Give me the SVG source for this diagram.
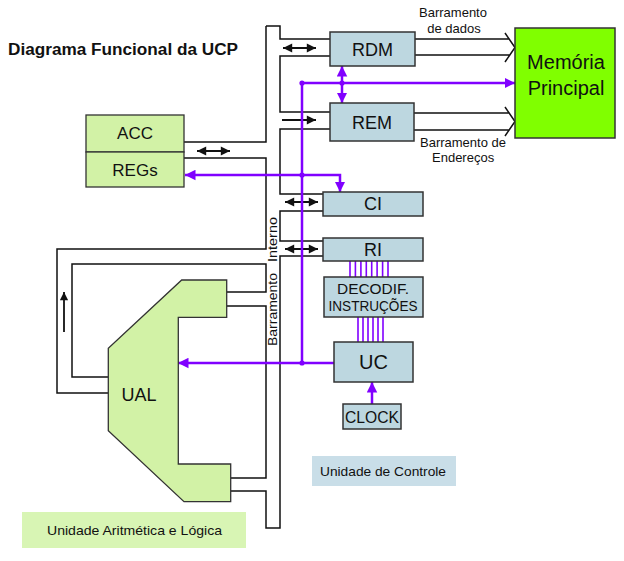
<svg xmlns="http://www.w3.org/2000/svg" width="624" height="561" viewBox="0 0 624 561">
<style>
text{font-family:"Liberation Sans",Arial,sans-serif;fill:#111}
.bus{fill:none;stroke:#111;stroke-width:1.5}
.blk{fill:none;stroke:#111;stroke-width:2}
.pur{fill:none;stroke:#8000ff;stroke-width:2.5}
.pth{fill:none;stroke:#8000ff;stroke-width:1.6}
.blue{fill:#bdd7e0;stroke:#333;stroke-width:1.5}
.green{fill:#d2f2a6;stroke:#333;stroke-width:1.3}
.lbl{font-size:13px}
</style>
<defs>
<marker id="ah" viewBox="0 0 10 10" refX="10" refY="5" markerWidth="5" markerHeight="4.6" orient="auto-start-reverse" markerUnits="strokeWidth"><path d="M0,0 L10,5 L0,10 z" fill="#111"/></marker>
<marker id="ap" viewBox="0 0 10 10" refX="10" refY="5" markerWidth="4.2" markerHeight="4.4" orient="auto-start-reverse" markerUnits="strokeWidth"><path d="M0,0 L10,5 L0,10 z" fill="#8000ff"/></marker>
</defs>
<rect width="624" height="561" fill="#fff"/>
<text x="8" y="55" font-size="16" font-weight="bold" textLength="230" lengthAdjust="spacingAndGlyphs">Diagrama Funcional da UCP</text>
<g id="connectors">
<path class="bus" d="M266,26 H280 V39 H330 M330,56 H280 V112 H330 M330,129 H280 V194 H323 M323,211 H280 V241 H323 M323,256 H280 V528 H266 V491 H231 M231,478 H266 V306 H227 M227,292 H266 V264 H72 V377 H108 M108,393 H57 V249 H266 V158 H184 M184,142 H266 V26"/>
<path class="bus" d="M415,39 H509 M505,33 L515,47.5 L505,62 M415,55 H509.5 M414,113 H509 M505,107 L515,121.5 L505,136 M414,130 H509.5"/>
<line class="blk" x1="283" y1="48" x2="316" y2="48" marker-start="url(#ah)" marker-end="url(#ah)"/>
<line class="blk" x1="282" y1="120" x2="316" y2="120" marker-end="url(#ah)"/>
<line class="blk" x1="197" y1="151" x2="230" y2="151" marker-start="url(#ah)" marker-end="url(#ah)"/>
<line class="blk" x1="285" y1="202" x2="318" y2="202" marker-start="url(#ah)" marker-end="url(#ah)"/>
<line class="blk" x1="285" y1="249" x2="318" y2="249" marker-start="url(#ah)" marker-end="url(#ah)"/>
<line x1="64" y1="332" x2="64" y2="292" stroke="#111" stroke-width="1.8" marker-end="url(#ah)"/>
<path class="pur" d="M302,363 V83 H515" marker-end="url(#ap)"/>
<line class="pur" x1="342" y1="66" x2="342" y2="103" marker-start="url(#ap)" marker-end="url(#ap)"/>
<path class="pur" d="M185,175 H340 V192" marker-start="url(#ap)" marker-end="url(#ap)"/>
<line class="pur" x1="334" y1="363" x2="178" y2="363" marker-end="url(#ap)"/>
<line class="pur" x1="372" y1="404" x2="372" y2="382" marker-end="url(#ap)"/>
<path class="pth" d="M350,261 V277 M355.4,261 V277 M360.9,261 V277 M366.3,261 V277 M371.7,261 V277 M377.1,261 V277 M382.6,261 V277 M388,261 V277"/>
<path class="pth" d="M358,317 V342 M363,317 V342 M368,317 V342 M373,317 V342 M378,317 V342 M383,317 V342"/>
<g fill="#8000ff"><circle cx="302" cy="83" r="2.6"/><circle cx="342" cy="83" r="2.6"/><circle cx="302" cy="175" r="2.6"/><circle cx="302" cy="363" r="2.6"/></g>
<text transform="translate(277,346) rotate(-90)" font-size="13" textLength="73" lengthAdjust="spacingAndGlyphs">Barramento</text>
<text transform="translate(277,262) rotate(-90)" font-size="13" textLength="45" lengthAdjust="spacingAndGlyphs">Interno</text>
</g>
<text class="lbl" x="453" y="17" text-anchor="middle">Barramento</text>
<text class="lbl" x="454" y="33" text-anchor="middle">de dados</text>
<text class="lbl" x="420" y="147">Barramento de</text>
<text class="lbl" x="432" y="162">Endereços</text>
<g id="rdm"><rect class="blue" x="330" y="32" width="85" height="34"/><text x="372.5" y="56" font-size="18" text-anchor="middle">RDM</text></g>
<g id="rem"><rect class="blue" x="330" y="103" width="84" height="38"/><text x="372" y="129" font-size="18" text-anchor="middle">REM</text></g>
<g id="ci"><rect class="blue" x="323" y="192" width="100" height="24"/><text x="373" y="210" font-size="18" text-anchor="middle">CI</text></g>
<g id="ri"><rect class="blue" x="323" y="238" width="100" height="23"/><text x="373" y="256" font-size="18" text-anchor="middle">RI</text></g>
<g id="decodif"><rect class="blue" x="324" y="277" width="99" height="40"/><text x="373" y="294" font-size="15" text-anchor="middle" textLength="72" lengthAdjust="spacingAndGlyphs">DECODIF.</text><text x="373" y="311" font-size="15" text-anchor="middle" textLength="89" lengthAdjust="spacingAndGlyphs">INSTRUÇÕES</text></g>
<g id="uc"><rect class="blue" x="334" y="342" width="79" height="40"/><text x="373.5" y="369" font-size="20" text-anchor="middle">UC</text></g>
<g id="clock"><rect class="blue" x="343" y="404" width="58" height="25"/><text x="372" y="423" font-size="17" text-anchor="middle" textLength="54" lengthAdjust="spacingAndGlyphs">CLOCK</text></g>
<g id="memoria"><rect x="515" y="28" width="100" height="110" fill="#80ff00" stroke="#333" stroke-width="1.5"/><text x="566" y="69" font-size="20" text-anchor="middle">Memória</text><text x="566" y="95" font-size="20" text-anchor="middle">Principal</text></g>
<g id="acc"><rect class="green" x="86" y="115" width="98" height="37"/><text x="135" y="139" font-size="17" text-anchor="middle">ACC</text></g>
<g id="regs"><rect class="green" x="86" y="152" width="98" height="35"/><text x="135" y="176" font-size="17" text-anchor="middle">REGs</text></g>
<g id="ual"><polygon class="green" points="181.7,280 226.7,280 226.7,317.3 178.3,317.3 178.3,464 230.7,464 230.7,501.7 184,501.7 108.3,430.7 108.3,348.3"/><text x="139" y="401" font-size="18" text-anchor="middle">UAL</text></g>
<g id="label-ual"><rect x="22" y="512" width="224" height="36" fill="#d8f5b4"/><text x="47" y="535" font-size="13" textLength="175" lengthAdjust="spacingAndGlyphs">Unidade Aritmética e Lógica</text></g>
<g id="label-uc"><rect x="312" y="456" width="144" height="30" fill="#c9dee8"/><text x="320" y="476" font-size="13" textLength="126" lengthAdjust="spacingAndGlyphs">Unidade de Controle</text></g>
</svg>
